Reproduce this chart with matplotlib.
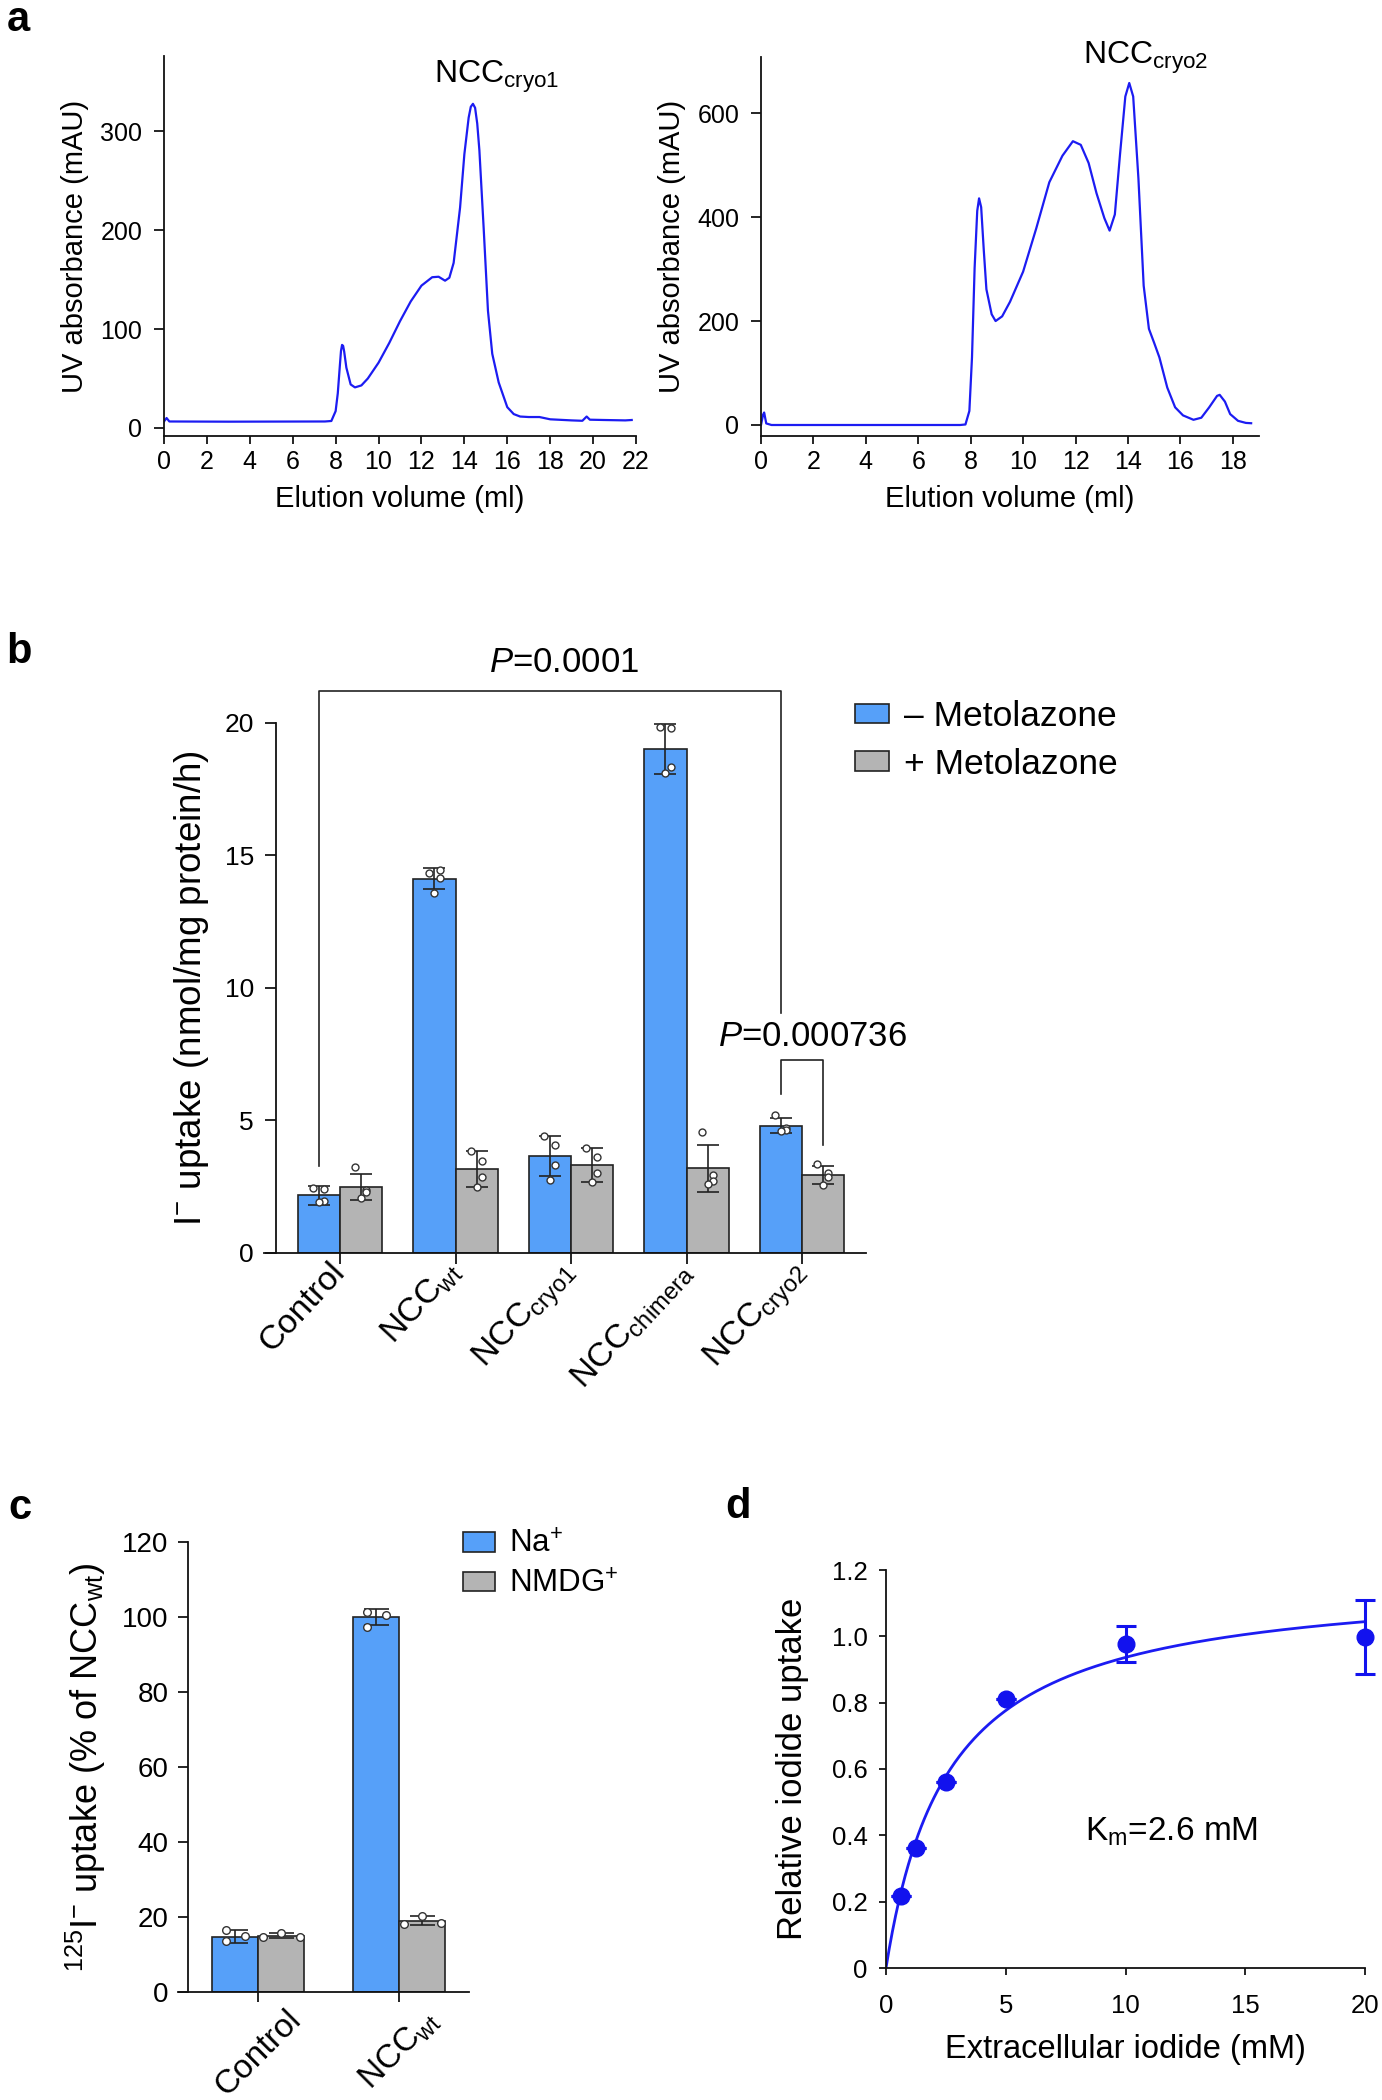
import numpy as np
import matplotlib
matplotlib.use('Agg')
import matplotlib.pyplot as plt
from matplotlib.patches import Patch
from matplotlib.transforms import ScaledTranslation

plt.rcParams['font.family'] = ['Liberation Sans', 'DejaVu Sans']
plt.rcParams['mathtext.fontset'] = 'custom'
plt.rcParams['mathtext.rm'] = 'Liberation Sans'
plt.rcParams['mathtext.it'] = 'Liberation Sans:italic'
plt.rcParams['mathtext.bf'] = 'Liberation Sans:bold'

# ---------------- data ----------------
# panel a, left chromatogram (NCC cryo1)
sec1_vol = [0.0, 0.12, 0.25, 3.0, 7.5, 7.8, 8.0, 8.1, 8.2, 8.25, 8.3, 8.35, 8.4, 8.5, 8.7, 8.9,
            9.2, 9.5, 10.0, 10.5, 11.0, 11.5, 12.0, 12.5, 12.8, 13.1, 13.3, 13.5, 13.8, 14.0,
            14.2, 14.3, 14.4, 14.5, 14.6, 14.7, 14.9, 15.1, 15.3, 15.6, 16.0, 16.3, 16.6, 17.0,
            17.5, 18.0, 19.0, 19.5, 19.7, 19.85, 20.5, 21.5, 21.8]
sec1_abs = [6.5, 10, 6.5, 6.3, 6.5, 7, 17, 35, 64, 78, 84, 83, 77, 61, 44, 41,
            43, 50, 66, 86, 108, 128, 144, 152.5, 153, 149, 152, 167, 223, 277,
            314, 325, 328, 324, 308, 281, 202, 118.5, 75, 46, 21, 14, 11.5, 11,
            11, 8.7, 7.6, 7.2, 11.5, 8.3, 8, 7.6, 8]
# panel a, right chromatogram (NCC cryo2)
sec2_vol = [0.0, 0.08, 0.12, 0.2, 0.4, 7.6, 7.8, 7.95, 8.05, 8.15, 8.25, 8.32, 8.4, 8.5, 8.6,
            8.8, 8.95, 9.2, 9.5, 10.0, 10.5, 11.0, 11.5, 11.9, 12.2, 12.5, 12.8, 13.1, 13.3,
            13.5, 13.7, 13.9, 14.05, 14.2, 14.4, 14.6, 14.8, 15.0, 15.2, 15.5, 15.8, 16.1,
            16.5, 16.8, 17.1, 17.4, 17.5, 17.7, 17.9, 18.2, 18.5, 18.7]
sec2_abs = [0, 20, 24, 3, 0, 0, 1, 27, 130, 302, 412, 436, 419, 336, 261,
            213, 200, 209, 237, 295, 378, 467, 518, 546, 539, 504, 446, 398, 374,
            405, 522, 632, 658, 632, 474, 268, 185, 158, 130, 72, 34, 18.5,
            10, 14, 34, 56, 58, 45, 21, 8, 4, 3.4]

# panel b
b_categories = ['Control', r'NCC$_{\mathrm{wt}}$', r'NCC$_{\mathrm{cryo1}}$',
                r'NCC$_{\mathrm{chimera}}$', r'NCC$_{\mathrm{cryo2}}$']
b_minus = [2.16, 14.12, 3.64, 19.02, 4.79]
b_minus_err = [0.36, 0.40, 0.76, 0.93, 0.28]
b_plus = [2.48, 3.15, 3.31, 3.19, 2.93]
b_plus_err = [0.50, 0.68, 0.63, 0.88, 0.35]
b_minus_pts = [[2.45, 2.40, 1.95, 1.90],
               [14.33, 14.46, 14.14, 13.60],
               [4.41, 4.07, 3.30, 2.76],
               [19.85, 19.80, 18.35, 18.10],
               [5.20, 4.70, 4.65, 4.60]]
b_plus_pts = [[3.23, 2.35, 2.30, 2.05],
              [3.85, 3.47, 2.85, 2.48],
              [3.96, 3.60, 3.00, 2.68],
              [4.55, 2.95, 2.70, 2.60],
              [3.35, 3.00, 2.85, 2.55]]
b_legend = ['\u2013 Metolazone', '+ Metolazone']
b_p_values = [r'$P$=0.0001', r'$P$=0.000736']

# panel c
c_categories = ['Control', r'NCC$_{\mathrm{wt}}$']
c_na = [14.7, 100.0]
c_na_err = [1.7, 2.1]
c_nmdg = [15.0, 19.0]
c_nmdg_err = [0.6, 1.2]
c_na_pts = [[16.6, 13.6, 14.8], [101.5, 97.5, 100.6]]
c_nmdg_pts = [[14.5, 15.6, 14.5], [18.0, 20.2, 18.5]]
c_legend = [r'Na$^{+}$', r'NMDG$^{+}$']

# panel d
d_conc = [0.625, 1.25, 2.5, 5, 10, 20]
d_uptake = [0.218, 0.361, 0.562, 0.812, 0.976, 0.998]
d_err = [0, 0, 0, 0, 0.054, 0.112]
d_km = 2.6
d_vmax = 1.18

# ---------------- style ----------------
BLUE_BAR = '#56A0F9'
GRAY_BAR = '#B4B4B4'
LINE_BLUE = '#1C1CF2'
DOT_BLUE = '#1212EE'
EDGE = '#222222'

W, H = 1382, 2100
fig = plt.figure(figsize=(W / 100, H / 100), dpi=100)


def px_axes(l, t, r, b):
    return fig.add_axes([l / W, 1 - b / H, (r - l) / W, (b - t) / H])


def style_axes(ax, lw=1.3):
    ax.spines['top'].set_visible(False)
    ax.spines['right'].set_visible(False)
    for s in ('left', 'bottom'):
        ax.spines[s].set_linewidth(lw)
        ax.spines[s].set_color('#111111')


def panel_letter(x, y, s):
    fig.text(x / W, 1 - y / H, s, fontsize=30, fontweight='bold',
             ha='center', va='center')


# ---------------- panel a ----------------
axL = px_axes(164, 56.4, 636, 436.4)
axL.plot(sec1_vol, sec1_abs, color=LINE_BLUE, lw=1.6)
axL.set_xlim(0, 22)
axL.set_ylim(-8.6, 376)
axL.set_xticks(np.arange(0, 23, 2))
axL.set_yticks([0, 100, 200, 300])
style_axes(axL)
axL.tick_params(axis='both', labelsize=18, width=1.2, direction='out')
axL.tick_params(axis='x', length=6, pad=4)
axL.tick_params(axis='y', length=7.5, pad=8)
axL.set_xlabel('Elution volume (ml)', fontsize=21, labelpad=8)
axL.set_ylabel('UV absorbance (mAU)', fontsize=21, labelpad=8)
axL.text(12.59, 349, r'NCC$_{\mathrm{cryo1}}$', fontsize=23, ha='left', va='baseline')

axR = px_axes(761, 57, 1259, 435.7)
axR.plot(sec2_vol, sec2_abs, color=LINE_BLUE, lw=1.6)
axR.set_xlim(0, 19.0)
axR.set_ylim(-20.6, 708)
axR.set_xticks(np.arange(0, 19, 2))
axR.set_yticks([0, 200, 400, 600])
style_axes(axR)
axR.tick_params(axis='both', labelsize=18, width=1.2, direction='out')
axR.tick_params(axis='x', length=6, pad=4)
axR.tick_params(axis='y', length=7.5, pad=8)
axR.set_xlabel('Elution volume (ml)', fontsize=21, labelpad=8)
axR.set_ylabel('UV absorbance (mAU)', fontsize=21, labelpad=8)
axR.text(12.29, 694, r'NCC$_{\mathrm{cryo2}}$', fontsize=23, ha='left', va='baseline',
         clip_on=False)

panel_letter(18, 20, 'a')

# ---------------- panel b ----------------
axB = px_axes(264, 723, 866, 1252.7)
xb = np.arange(len(b_categories))
bw = 0.364
off = bw / 2
err_kw = dict(ecolor=EDGE, elinewidth=1.2, capsize=8, capthick=1.2, zorder=3)
axB.bar(xb - off, b_minus, bw, color=BLUE_BAR, edgecolor=EDGE, linewidth=1.2,
        yerr=b_minus_err, error_kw=err_kw, zorder=2)
axB.bar(xb + off, b_plus, bw, color=GRAY_BAR, edgecolor=EDGE, linewidth=1.2,
        yerr=b_plus_err, error_kw=err_kw, zorder=2)
b_jit = [-0.05, 0.045, 0.045, 0.0]
for i in range(len(b_categories)):
    axB.plot(xb[i] - off + np.array(b_jit), b_minus_pts[i], 'o', mfc='white', mec='#333333',
             ms=5, mew=1.0, zorder=4, clip_on=False)
    axB.plot(xb[i] + off + np.array(b_jit), b_plus_pts[i], 'o', mfc='white', mec='#333333',
             ms=5, mew=1.0, zorder=4, clip_on=False)
axB.set_xlim(-0.658, 4.554)
axB.set_ylim(0, 20)
style_axes(axB)
axB.spines['left'].set_position(('data', -0.554))
axB.set_yticks([0, 5, 10, 15, 20])
axB.set_xticks(xb)
axB.set_xticklabels(b_categories, rotation=47, ha='right', va='center',
                    rotation_mode='anchor', fontsize=24.5)
for lbl in axB.get_xticklabels():
    lbl.set_transform(lbl.get_transform() + ScaledTranslation(-4 / 72, 0, fig.dpi_scale_trans))
axB.tick_params(axis='y', labelsize=19, length=8, width=1.2, pad=8)
axB.tick_params(axis='x', length=8, width=1.2, pad=2)
axB.set_ylabel(r'I$^{-}$ uptake (nmol/mg protein/h)', fontsize=26.5, labelpad=10)
# significance brackets
axB.plot([xb[0] - off, xb[0] - off, xb[4] - off, xb[4] - off], [3.27, 21.22, 21.22, 9.05],
         color=EDGE, lw=1.2, clip_on=False)
axB.text(1.94, 22.3, b_p_values[0], fontsize=25, ha='center', va='center')
axB.plot([xb[4] - off, xb[4] - off, xb[4] + off, xb[4] + off], [5.99, 7.27, 7.27, 4.08],
         color=EDGE, lw=1.2, clip_on=False)
axB.text(4.09, 8.15, b_p_values[1], fontsize=25, ha='center', va='center')
hb = [Patch(facecolor=BLUE_BAR, edgecolor=EDGE, linewidth=1.2),
      Patch(facecolor=GRAY_BAR, edgecolor=EDGE, linewidth=1.2)]
axB.legend(hb, b_legend, loc='upper left', bbox_to_anchor=(855 / W, 1 - 700 / H),
           bbox_transform=fig.transFigure, frameon=False, fontsize=25.5, handlelength=0.95,
           handleheight=0.48, handletextpad=0.42, labelspacing=0.42, borderpad=0,
           borderaxespad=0)
panel_letter(19, 652, 'b')

# ---------------- panel c ----------------
axC = px_axes(178, 1542.4, 468.7, 1991.8)
xc = np.arange(len(c_categories))
cw = 0.326
coff = cw / 2
err_kw_c = dict(ecolor=EDGE, elinewidth=1.2, capsize=9, capthick=1.2, zorder=3)
axC.bar(xc - coff, c_na, cw, color=BLUE_BAR, edgecolor=EDGE, linewidth=1.2,
        yerr=c_na_err, error_kw=err_kw_c, zorder=2)
axC.bar(xc + coff, c_nmdg, cw, color=GRAY_BAR, edgecolor=EDGE, linewidth=1.2,
        yerr=c_nmdg_err, error_kw=err_kw_c, zorder=2)
c_jit_na = [-0.065, -0.065, 0.065]
c_jit_nmdg = [-0.13, 0.0, 0.13]
for i in range(len(c_categories)):
    axC.plot(xc[i] - coff + np.array(c_jit_na), c_na_pts[i], 'o',
             mfc='white', mec='#333333', ms=5.5, mew=1.0, zorder=4, clip_on=False)
    axC.plot(xc[i] + coff + np.array(c_jit_nmdg), c_nmdg_pts[i], 'o', mfc='white',
             mec='#333333', ms=5.5, mew=1.0, zorder=4, clip_on=False)
axC.set_xlim(-0.57, 1.492)
axC.set_ylim(0, 120)
style_axes(axC)
axC.spines['left'].set_position(('data', -0.5))
axC.set_yticks(np.arange(0, 121, 20))
axC.set_xticks(xc)
axC.set_xticklabels(c_categories, rotation=45, ha='center', va='top', fontsize=24)
for lbl in axC.get_xticklabels():
    lbl.set_transform(lbl.get_transform() + ScaledTranslation(-14 / 72, 0, fig.dpi_scale_trans))
axC.tick_params(axis='y', labelsize=20, length=7, width=1.2, pad=7)
axC.tick_params(axis='x', length=7.5, width=1.2, pad=1.5)
axC.set_ylabel(r'$^{125}$I$^{-}$ uptake (% of NCC$_{\mathrm{wt}}$)', fontsize=26, labelpad=10)
hc = [Patch(facecolor=BLUE_BAR, edgecolor=EDGE, linewidth=1.2),
      Patch(facecolor=GRAY_BAR, edgecolor=EDGE, linewidth=1.2)]
axC.legend(hc, c_legend, loc='upper left', bbox_to_anchor=(463 / W, 1 - 1530 / H),
           bbox_transform=fig.transFigure, frameon=False, fontsize=22.5, handlelength=1.02,
           handleheight=0.58, handletextpad=0.45, labelspacing=0.3, borderpad=0,
           borderaxespad=0)
panel_letter(20, 1508, 'c')

# ---------------- panel d ----------------
axD = px_axes(886, 1570, 1365, 1968)
xfit = np.linspace(0, 20, 300)
axD.plot(xfit, d_vmax * xfit / (d_km + xfit), color=LINE_BLUE, lw=2.0, zorder=2)
axD.errorbar(d_conc, d_uptake, yerr=d_err, fmt='o', color=DOT_BLUE, ms=12, elinewidth=2.2,
             capsize=7, capthick=2.2, zorder=3, clip_on=False)
axD.set_xlim(0, 20)
axD.set_ylim(0, 1.2)
style_axes(axD)
axD.set_xticks([0, 5, 10, 15, 20])
axD.set_yticks([0, 0.2, 0.4, 0.6, 0.8, 1.0, 1.2])
axD.set_yticklabels(['0', '0.2', '0.4', '0.6', '0.8', '1.0', '1.2'])
axD.tick_params(axis='both', labelsize=18.5, width=1.2, direction='out')
axD.tick_params(axis='x', length=5, pad=14)
axD.tick_params(axis='y', length=5.4, pad=8)
axD.set_xlabel('Extracellular iodide (mM)', fontsize=23.5, labelpad=11)
axD.set_ylabel('Relative iodide uptake', fontsize=25, labelpad=16)
axD.text(8.3, 0.41, r'K$_{\mathrm{m}}$=2.6 mM', fontsize=24, ha='left', va='center')
panel_letter(738, 1507, 'd')

fig.savefig('out.png', dpi=100)
